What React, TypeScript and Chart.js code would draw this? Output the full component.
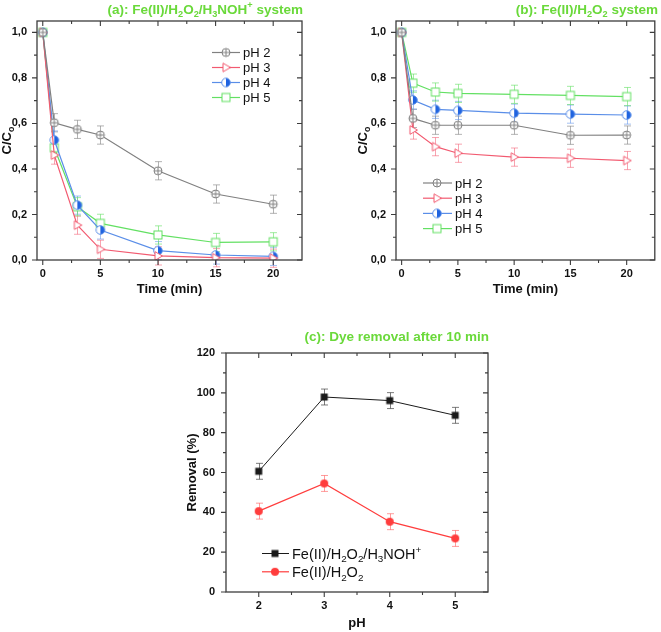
import React, { useEffect, useRef } from 'react';
import { Chart, registerables } from 'chart.js';
Chart.register(...registerables);

// ---------- data ----------
const timeMin = [0, 1, 3, 5, 10, 15, 20];
const aPH2 = [1.0, 0.603, 0.574, 0.549, 0.392, 0.29, 0.245];
const aPH3 = [1.0, 0.461, 0.153, 0.047, 0.018, 0.01, 0.008];
const aPH4 = [1.0, 0.527, 0.241, 0.132, 0.041, 0.022, 0.016];
const aPH5 = [1.0, 0.493, 0.234, 0.161, 0.11, 0.077, 0.08];
const bPH2 = [1.0, 0.622, 0.592, 0.592, 0.592, 0.548, 0.549];
const bPH3 = [1.0, 0.571, 0.498, 0.469, 0.452, 0.447, 0.437];
const bPH4 = [1.0, 0.703, 0.662, 0.657, 0.645, 0.641, 0.637];
const bPH5 = [1.0, 0.777, 0.738, 0.732, 0.728, 0.723, 0.718];
const errTime = [0, 0.04, 0.04, 0.04, 0.04, 0.04, 0.04];
const seriesLabels = ['pH 2', 'pH 3', 'pH 4', 'pH 5'];

const pHValues = [2, 3, 4, 5];
const removalHydroxylamine = [60.6, 97.9, 96.1, 88.7];
const removalFenton = [40.6, 54.5, 35.3, 26.9];
const errRemoval = [4, 4, 4, 4];

const timeTicks = [0, 5, 10, 15, 20];
const timeMinorTicks = [2.5, 7.5, 12.5, 17.5];
const ratioTicks = [0, 0.2, 0.4, 0.6, 0.8, 1.0];
const ratioMinorTicks = [0.1, 0.3, 0.5, 0.7, 0.9];
const pHTicks = [2, 3, 4, 5];
const pHMinorTicks = [2.5, 3.5, 4.5];
const removalTicks = [0, 20, 40, 60, 80, 100, 120];
const removalMinorTicks = [10, 30, 50, 70, 90, 110];

// ---------- styling helpers ----------
const FAMILY = '"Liberation Sans", Arial, Helvetica, sans-serif';
const TITLE_GREEN = '#6ad93a';
const FRAME = '#3c3c3c';

type Seg = { t: string; k?: 'sub' | 'sup' };

function drawRich(ctx: CanvasRenderingContext2D, segs: Seg[], x: number, y: number, size: number, weight: string, color: string, align: 'left' | 'center' | 'right') {
  const font = (s: number) => `${weight} ${s}px ${FAMILY}`;
  let total = 0;
  const widths = segs.map((sg) => {
    ctx.font = font(sg.k ? size * 0.68 : size);
    const w = ctx.measureText(sg.t).width;
    total += w;
    return w;
  });
  let cx = align === 'left' ? x : align === 'center' ? x - total / 2 : x - total;
  ctx.fillStyle = color;
  ctx.textBaseline = 'alphabetic';
  ctx.textAlign = 'left';
  segs.forEach((sg, i) => {
    ctx.font = font(sg.k ? size * 0.68 : size);
    const dy = sg.k === 'sub' ? size * 0.24 : sg.k === 'sup' ? -size * 0.4 : 0;
    ctx.fillText(sg.t, cx, y + dy);
    cx += widths[i];
  });
}

function makeMarker(kind: string, color: string, fill?: string): HTMLCanvasElement {
  const c = document.createElement('canvas');
  c.width = 12;
  c.height = 12;
  const g = c.getContext('2d')!;
  const m = 6;
  g.lineWidth = 1;
  g.strokeStyle = color;
  if (kind === 'circlePlus') {
    g.beginPath(); g.arc(m, m, 4, 0, Math.PI * 2); g.fillStyle = '#fff'; g.fill(); g.stroke();
    g.beginPath(); g.moveTo(m - 4, m); g.lineTo(m + 4, m); g.moveTo(m, m - 4); g.lineTo(m, m + 4); g.stroke();
  } else if (kind === 'triRight') {
    g.beginPath(); g.moveTo(m + 4.5, m); g.lineTo(m - 3, m - 4.3); g.lineTo(m - 3, m + 4.3); g.closePath();
    g.fillStyle = '#fff'; g.fill(); g.stroke();
  } else if (kind === 'halfCircle') {
    g.beginPath(); g.arc(m, m, 4.3, 0, Math.PI * 2); g.fillStyle = '#fff'; g.fill();
    g.beginPath(); g.arc(m, m, 4.3, -Math.PI / 2, Math.PI / 2); g.closePath(); g.fillStyle = fill || color; g.fill();
    g.beginPath(); g.arc(m, m, 4.3, 0, Math.PI * 2); g.stroke();
  } else if (kind === 'square') {
    g.fillStyle = '#fff'; g.fillRect(m - 4, m - 4, 8, 8); g.strokeRect(m - 4, m - 4, 8, 8);
  } else if (kind === 'filledSquare') {
    g.fillStyle = color; g.fillRect(m - 3.5, m - 3.5, 7, 7);
  } else if (kind === 'filledCircle') {
    g.beginPath(); g.arc(m, m, 4, 0, Math.PI * 2); g.fillStyle = color; g.fill();
  }
  return c;
}

type SeriesSpec = { label: string; labelSegs?: Seg[]; data: number[]; err: number[]; color: string; errColor: string; marker: HTMLCanvasElement; lineWidth: number };

type PanelSpec = {
  id: string;
  width: number;
  height: number;
  area: { left: number; top: number; right: number; bottom: number };
  xVals: number[];
  xMin: number; xMax: number; xTicks: number[]; xMinor: number[]; xFmt: (v: number) => string; xPad: number;
  yMin: number; yMax: number; yTicks: number[]; yMinor: number[]; yFmt: (v: number) => string; yPad: number;
  series: SeriesSpec[];
  title: Seg[]; titleRight: number; titleBaseline: number; titleSize: number;
  yTitle: Seg[]; yTitleX: number; xTitle: string; xTitleY: number; axisTitleSize: number;
  legend: { x0: number; x1: number; mx: number; tx: number; y0: number; step: number; size: number };
};

function buildConfig(p: PanelSpec): any {
  const a = p.area;
  const plugin = {
    id: 'origin_' + p.id,
    beforeDatasetsDraw(chart: any) {
      const ctx = chart.ctx as CanvasRenderingContext2D;
      const ys = chart.scales.y;
      ctx.save();
      p.series.forEach((s, i) => {
        const meta = chart.getDatasetMeta(i);
        ctx.strokeStyle = s.errColor;
        ctx.lineWidth = 1;
        s.data.forEach((v, j) => {
          const e = s.err[j];
          if (!e) return;
          const x = Math.round(meta.data[j].x) + 0.5;
          const yt = ys.getPixelForValue(v + e);
          const yb = ys.getPixelForValue(v - e);
          ctx.beginPath();
          ctx.moveTo(x, yt); ctx.lineTo(x, yb);
          ctx.moveTo(x - 3.5, yt); ctx.lineTo(x + 3.5, yt);
          ctx.moveTo(x - 3.5, yb); ctx.lineTo(x + 3.5, yb);
          ctx.stroke();
        });
      });
      ctx.restore();
    },
    afterDraw(chart: any) {
      const ctx = chart.ctx as CanvasRenderingContext2D;
      const ca = chart.chartArea;
      const xs = chart.scales.x;
      const ys = chart.scales.y;
      ctx.save();
      // frame
      ctx.strokeStyle = FRAME;
      ctx.lineWidth = 1.3;
      ctx.strokeRect(ca.left, ca.top, ca.right - ca.left, ca.bottom - ca.top);
      // ticks
      ctx.lineWidth = 1.1;
      ctx.beginPath();
      const xt = (vals: number[], len: number) => vals.forEach((v) => {
        const x = xs.getPixelForValue(v);
        ctx.moveTo(x, ca.bottom); ctx.lineTo(x, ca.bottom + len);
        ctx.moveTo(x, ca.top); ctx.lineTo(x, ca.top + len);
      });
      const yt = (vals: number[], len: number) => vals.forEach((v) => {
        const y = ys.getPixelForValue(v);
        ctx.moveTo(ca.left, y); ctx.lineTo(ca.left - len, y);
        ctx.moveTo(ca.right, y); ctx.lineTo(ca.right - len, y);
      });
      xt(p.xTicks, 5); xt(p.xMinor, 3); yt(p.yTicks, 5); yt(p.yMinor, 3);
      ctx.stroke();
      // title
      drawRich(ctx, p.title, p.titleRight, p.titleBaseline, p.titleSize, 'bold', TITLE_GREEN, 'right');
      // axis titles
      drawRich(ctx, [{ t: p.xTitle }], (ca.left + ca.right) / 2, p.xTitleY, p.axisTitleSize, 'bold', '#111', 'center');
      ctx.save();
      ctx.translate(p.yTitleX, (ca.top + ca.bottom) / 2);
      ctx.rotate(-Math.PI / 2);
      drawRich(ctx, p.yTitle, 0, 0, p.axisTitleSize, 'bold', '#111', 'center');
      ctx.restore();
      // legend
      const L = p.legend;
      p.series.forEach((s, i) => {
        const y = L.y0 + i * L.step;
        ctx.strokeStyle = s.color;
        ctx.lineWidth = s.lineWidth;
        ctx.beginPath(); ctx.moveTo(L.x0, y); ctx.lineTo(L.x1, y); ctx.stroke();
        ctx.drawImage(s.marker, L.mx - s.marker.width / 2, y - s.marker.height / 2);
        drawRich(ctx, s.labelSegs || [{ t: s.label }], L.tx, y + L.size * 0.36, L.size, 'normal', '#111', 'left');
      });
      ctx.restore();
    },
  };

  const tickFont = { family: FAMILY, size: 11, weight: 'bold' as const };
  return {
    type: 'line',
    data: {
      labels: p.xVals,
      datasets: p.series.map((s) => ({
        label: s.label,
        data: p.xVals.map((x, j) => ({ x, y: s.data[j] })),
        borderColor: s.color,
        borderWidth: s.lineWidth,
        pointStyle: s.marker,
        pointRadius: 5,
        pointHoverRadius: 5,
        fill: false,
        tension: 0,
      })),
    },
    options: {
      responsive: false,
      animation: false,
      events: [],
      layout: { padding: { left: 0, top: a.top, right: p.width - a.right, bottom: 0 } },
      plugins: { legend: { display: false }, title: { display: false }, tooltip: { enabled: false } },
      scales: {
        x: {
          type: 'linear',
          min: p.xMin,
          max: p.xMax,
          afterBuildTicks: (sc: any) => { sc.ticks = p.xTicks.map((value) => ({ value })); },
          afterFit: (sc: any) => { sc.height = p.height - a.bottom; },
          ticks: { callback: (v: number) => p.xFmt(v), font: tickFont, color: '#111', padding: p.xPad, maxRotation: 0, autoSkip: false },
          grid: { display: false, drawTicks: false },
          border: { display: false },
        },
        y: {
          type: 'linear',
          min: p.yMin,
          max: p.yMax,
          afterBuildTicks: (sc: any) => { sc.ticks = p.yTicks.map((value) => ({ value })); },
          afterFit: (sc: any) => { sc.width = a.left; },
          ticks: { callback: (v: number) => p.yFmt(v), font: tickFont, color: '#111', padding: p.yPad, autoSkip: false },
          grid: { display: false, drawTicks: false },
          border: { display: false },
        },
      },
    },
    plugins: [plugin],
  };
}

function kineticSeries(d: number[][]): SeriesSpec[] {
  const gray = '#808080', red = '#f25a70', blue = '#5a8ee8', blueFill = '#1f63e0', green = '#63e063';
  return [
    { label: seriesLabels[0], data: d[0], err: errTime, color: gray, errColor: 'rgba(128,128,128,0.6)', marker: makeMarker('circlePlus', gray), lineWidth: 1.2 },
    { label: seriesLabels[1], data: d[1], err: errTime, color: red, errColor: 'rgba(242,90,112,0.55)', marker: makeMarker('triRight', red), lineWidth: 1.2 },
    { label: seriesLabels[2], data: d[2], err: errTime, color: blue, errColor: 'rgba(90,142,232,0.55)', marker: makeMarker('halfCircle', blue, blueFill), lineWidth: 1.2 },
    { label: seriesLabels[3], data: d[3], err: errTime, color: green, errColor: 'rgba(99,224,99,0.6)', marker: makeMarker('square', green), lineWidth: 1.2 },
  ];
}

const comma = (v: number) => v.toFixed(1).replace('.', ',');
const plain = (v: number) => String(v);
const cOverC0: Seg[] = [{ t: 'C/C' }, { t: 'o', k: 'sub' }];

function specA(): PanelSpec {
  return {
    id: 'a', width: 330, height: 300,
    area: { left: 37, top: 21, right: 302, bottom: 260 },
    xVals: timeMin, xMin: -0.5, xMax: 22.5, xTicks: timeTicks, xMinor: timeMinorTicks, xFmt: plain, xPad: 7,
    yMin: 0, yMax: 1.05, yTicks: ratioTicks, yMinor: ratioMinorTicks, yFmt: comma, yPad: 10,
    series: kineticSeries([aPH2, aPH3, aPH4, aPH5]),
    title: [{ t: '(a): Fe(II)/H' }, { t: '2', k: 'sub' }, { t: 'O' }, { t: '2', k: 'sub' }, { t: '/H' }, { t: '3', k: 'sub' }, { t: 'NOH' }, { t: '+', k: 'sup' }, { t: ' system' }],
    titleRight: 303, titleBaseline: 13.5, titleSize: 13.5,
    yTitle: cOverC0, yTitleX: 11, xTitle: 'Time (min)', xTitleY: 293, axisTitleSize: 13,
    legend: { x0: 212, x1: 240, mx: 226, tx: 243, y0: 52.5, step: 15, size: 13 },
  };
}

function specB(): PanelSpec {
  return {
    id: 'b', width: 331, height: 300,
    area: { left: 66, top: 21, right: 328, bottom: 260 },
    xVals: timeMin, xMin: -0.5, xMax: 22.5, xTicks: timeTicks, xMinor: timeMinorTicks, xFmt: plain, xPad: 7,
    yMin: 0, yMax: 1.05, yTicks: ratioTicks, yMinor: ratioMinorTicks, yFmt: comma, yPad: 10,
    series: kineticSeries([bPH2, bPH3, bPH4, bPH5]),
    title: [{ t: '(b): Fe(II)/H' }, { t: '2', k: 'sub' }, { t: 'O' }, { t: '2', k: 'sub' }, { t: ' system' }],
    titleRight: 328, titleBaseline: 13.5, titleSize: 13.5,
    yTitle: cOverC0, yTitleX: 37, xTitle: 'Time (min)', xTitleY: 293, axisTitleSize: 13,
    legend: { x0: 93, x1: 122, mx: 107, tx: 125, y0: 183, step: 15.2, size: 13 },
  };
}

function specC(): PanelSpec {
  const black = '#1a1a1a', red = '#ff3d3d';
  return {
    id: 'c', width: 340, height: 332,
    area: { left: 56, top: 53, right: 318, bottom: 292 },
    xVals: pHValues, xMin: 1.5, xMax: 5.5, xTicks: pHTicks, xMinor: pHMinorTicks, xFmt: plain, xPad: 7,
    yMin: 0, yMax: 120, yTicks: removalTicks, yMinor: removalMinorTicks, yFmt: plain, yPad: 11,
    series: [
      {
        label: 'Fe(II)/H2O2/H3NOH+',
        labelSegs: [{ t: 'Fe(II)/H' }, { t: '2', k: 'sub' }, { t: 'O' }, { t: '2', k: 'sub' }, { t: '/H' }, { t: '3', k: 'sub' }, { t: 'NOH' }, { t: '+', k: 'sup' }],
        data: removalHydroxylamine, err: errRemoval, color: black, errColor: 'rgba(80,80,80,0.75)', marker: makeMarker('filledSquare', black), lineWidth: 1,
      },
      {
        label: 'Fe(II)/H2O2',
        labelSegs: [{ t: 'Fe(II)/H' }, { t: '2', k: 'sub' }, { t: 'O' }, { t: '2', k: 'sub' }],
        data: removalFenton, err: errRemoval, color: red, errColor: 'rgba(255,90,90,0.6)', marker: makeMarker('filledCircle', red), lineWidth: 1.2,
      },
    ],
    title: [{ t: '(c): Dye removal after 10 min' }],
    titleRight: 319, titleBaseline: 41, titleSize: 13.5,
    yTitle: [{ t: 'Removal (%)' }], yTitleX: 26, xTitle: 'pH', xTitleY: 327, axisTitleSize: 13,
    legend: { x0: 92, x1: 119, mx: 105, tx: 122, y0: 253.5, step: 18.3, size: 14.5 },
  };
}

function Panel({ left, top, make }: { left: number; top: number; make: () => PanelSpec }) {
  const ref = useRef<HTMLCanvasElement>(null);
  const spec = useRef<PanelSpec | null>(null);
  if (!spec.current) spec.current = make();
  const s = spec.current;
  useEffect(() => {
    const chart = new Chart(ref.current!, buildConfig(s));
    return () => chart.destroy();
  }, []);
  return (
    <canvas
      ref={ref}
      width={s.width}
      height={s.height}
      style={{ position: 'absolute', left, top, width: s.width, height: s.height }}
    />
  );
}

export default function App() {
  return (
    <div style={{ position: 'absolute', left: 0, top: 0, width: 661, height: 632, background: '#fff' }}>
      <Panel left={0} top={0} make={specA} />
      <Panel left={330} top={0} make={specB} />
      <Panel left={170} top={300} make={specC} />
    </div>
  );
}
